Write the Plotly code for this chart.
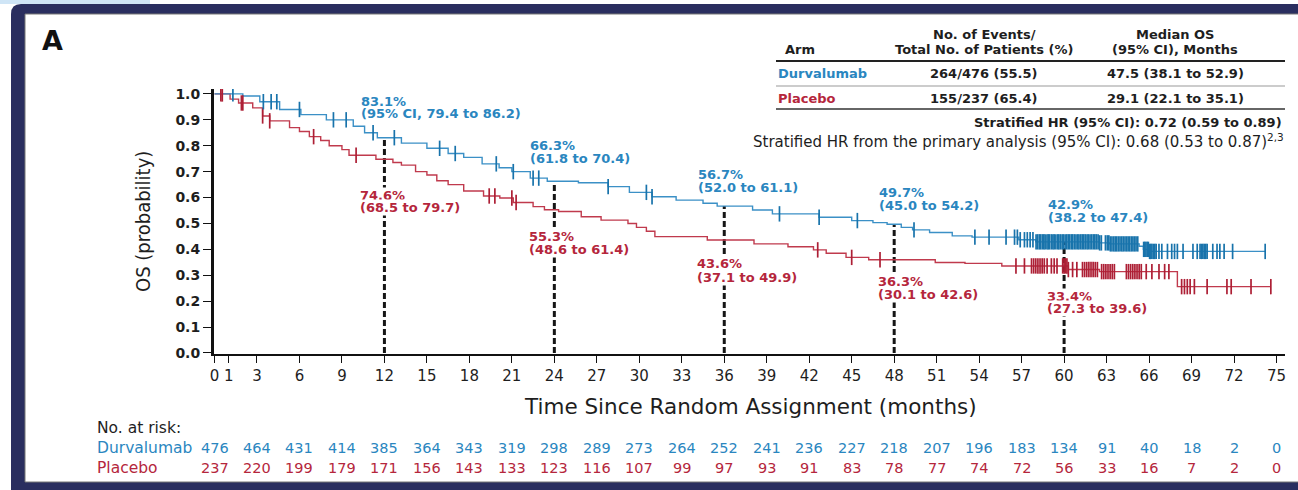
import numpy as np
import plotly.graph_objects as go

# ---------------- data ----------------
durv_t = [0, 2.0, 3.2, 4.6, 6.1, 7.9, 9.8, 10.6, 11.5, 13.2, 15.0, 16.5, 17.6, 18.9, 20.1, 21.0,
          22.3, 23.5, 25.7, 27.8, 29.3, 30.9, 32.6, 34.5, 35.5, 38.0, 39.4, 42.7, 45.0, 46.5,
          47.5, 48.5, 49.3, 50.5, 52.1, 53.5, 56.8, 58.0, 62.5, 63.2, 65.3, 65.6, 66.0, 74.2]
durv_s = [1.0, 0.992, 0.97, 0.94, 0.92, 0.90, 0.875, 0.85, 0.831, 0.81, 0.79, 0.77, 0.755, 0.73, 0.715, 0.70,
          0.675, 0.663, 0.657, 0.642, 0.62, 0.603, 0.59, 0.578, 0.567, 0.552, 0.537, 0.524, 0.511, 0.503,
          0.497, 0.485, 0.475, 0.465, 0.452, 0.447, 0.437, 0.429, 0.425, 0.421, 0.412, 0.40, 0.392, 0.392]

plac_t = [0, 1.1, 1.7, 2.7, 3.4, 3.9, 5.3, 6.0, 6.7, 7.5, 8.1, 9.0, 9.5, 11.4, 12.6, 13.2, 14.2,
          15.0, 15.7, 16.5, 17.6, 19.0, 20.15, 21.1, 22.5, 23.3, 24.3, 25.9, 27.3, 29.2, 29.8, 30.5,
          31.1, 34.8, 38.1, 40.5, 42.3, 43.2, 44.6, 46.2, 50.9, 53.0, 55.6, 60.3, 62.5, 68.0, 74.6]
plac_s = [1.0, 0.98, 0.965, 0.946, 0.915, 0.896, 0.87, 0.855, 0.835, 0.82, 0.80, 0.785, 0.763, 0.748, 0.735,
          0.725, 0.70, 0.687, 0.665, 0.65, 0.625, 0.606, 0.598, 0.581, 0.565, 0.553, 0.546, 0.526, 0.513,
          0.50, 0.485, 0.47, 0.449, 0.436, 0.421, 0.41, 0.398, 0.385, 0.369, 0.36, 0.349, 0.346, 0.336,
          0.322, 0.314, 0.256, 0.256]

durv_cens = [1.3, 3.45, 4.0, 4.4, 6.0, 8.4, 9.3, 11.2, 12.7, 15.9, 17.0, 19.9, 21.1, 22.5, 22.9, 27.8,
             30.5, 30.9, 39.9, 42.7, 45.4, 49.4, 53.7, 54.7, 55.9, 56.5, 56.7, 56.9, 57.2, 57.4, 57.6,
             57.8, 58.02, 58.13, 58.25, 58.34, 58.46, 58.57, 58.66, 58.79, 58.88, 58.97, 59.1, 59.21,
             59.3, 59.42, 59.55, 59.63, 59.74, 59.86, 59.95, 60.07, 60.18, 60.29, 60.4, 60.52, 60.61,
             60.73, 60.84, 60.96, 61.05, 61.17, 61.28, 61.39, 61.5, 61.62, 61.71, 61.83, 61.94, 62.06,
             62.17, 62.28, 62.4, 62.51, 62.63, 62.92, 63.05, 63.16, 63.27, 63.38, 63.5, 63.61, 63.72,
             63.84, 63.95, 64.07, 64.18, 64.3, 64.41, 64.52, 64.63, 64.75, 64.86, 64.97, 65.08, 65.2,
             65.62, 65.7, 65.78, 65.87, 65.95, 66.04, 66.12, 66.2, 66.3, 66.4, 66.5, 66.7, 66.9, 67.3,
             67.6, 67.8, 68.0, 68.4, 69.1, 69.4, 69.6, 69.7, 69.8, 69.9, 70.0, 70.1, 70.5, 70.8, 71.0,
             71.3, 71.9, 74.2]
plac_cens = [0.45, 0.55, 1.9, 2.0, 3.4, 3.9, 7.0, 10.0, 19.4, 19.8, 21.0, 21.3, 42.6, 45.0, 47.0,
             56.6, 57.2, 57.7, 57.85, 58.0, 58.15, 58.3, 58.45, 58.6, 58.8, 59.1, 59.3, 59.5, 59.9,
             60.0, 60.1, 60.2, 60.3, 60.6, 60.9, 61.3, 61.45, 61.6, 61.75, 61.9, 62.05, 62.2, 62.35,
             62.65, 62.8, 62.95, 63.1, 63.25, 63.4, 63.55, 64.4, 64.55, 64.7, 64.85, 65.0, 65.15, 65.3,
             65.45, 65.8, 66.2, 66.7, 67.1, 67.4, 68.3, 68.5, 68.7, 68.9, 69.2, 70.1, 71.5, 71.8, 73.2,
             74.6]

landmarks = [12, 24, 36, 48, 60]
durv_land = [0.831, 0.663, 0.567, 0.497, 0.429]
plac_land = [0.746, 0.553, 0.436, 0.363, 0.334]
durv_pct = ["83.1%", "66.3%", "56.7%", "49.7%", "42.9%"]
durv_ci = ["(95% CI, 79.4 to 86.2)", "(61.8 to 70.4)", "(52.0 to 61.1)", "(45.0 to 54.2)", "(38.2 to 47.4)"]
plac_pct = ["74.6%", "55.3%", "43.6%", "36.3%", "33.4%"]
plac_ci = ["(68.5 to 79.7)", "(48.6 to 61.4)", "(37.1 to 49.9)", "(30.1 to 42.6)", "(27.3 to 39.6)"]

risk_months = [0, 3, 6, 9, 12, 15, 18, 21, 24, 27, 30, 33, 36, 39, 42, 45, 48, 51, 54, 57, 60, 63, 66, 69, 72, 75]
durv_risk = [476, 464, 431, 414, 385, 364, 343, 319, 298, 289, 273, 264, 252, 241, 236, 227, 218, 207,
             196, 183, 134, 91, 40, 18, 2, 0]
plac_risk = [237, 220, 199, 179, 171, 156, 143, 133, 123, 116, 107, 99, 97, 93, 91, 83, 78, 77, 74, 72,
             56, 33, 16, 7, 2, 0]

xtick_vals = [0, 1, 3, 6, 9, 12, 15, 18, 21, 24, 27, 30, 33, 36, 39, 42, 45, 48, 51, 54, 57, 60, 63, 66, 69, 72, 75]
ytick_vals = [0.0, 0.1, 0.2, 0.3, 0.4, 0.5, 0.6, 0.7, 0.8, 0.9, 1.0]
ytick_text = ["0.0", "0.1", "0.2", "0.3", "0.4", "0.5", "0.6", "0.7", "0.8", "0.9", "1.0"]

table_header = [["Arm"], ["No. of Events/", "Total No. of Patients (%)"], ["Median OS", "(95% CI), Months"]]
table_rows = [["Durvalumab", "264/476 (55.5)", "47.5 (38.1 to 52.9)"],
              ["Placebo", "155/237 (65.4)", "29.1 (22.1 to 35.1)"]]
hr_lines = ["Stratified HR (95% CI): 0.72 (0.59 to 0.89)",
            "Stratified HR from the primary analysis (95% CI): 0.68 (0.53 to 0.87)<sup>2,3</sup>"]

# ---------------- style ----------------
W, H = 1298, 490
ML, MR, MT, MB = 214, 13, 89, 136
PW, PH = W - ML - MR, H - MT - MB
FONT = "DejaVu Sans"
BLUE = "#2a86bf"
RED = "#b5263c"
BLUE_LINE = "#3b90c6"
RED_LINE = "#c03a4d"
NAVY = "#2a2e5f"
INK = "#1e1e1e"


def px(x):
    return (x - ML) / PW


def py(y):
    return (MT + PH - y) / PH


def step_value(times, surv, t):
    i = np.searchsorted(np.array(times), t, side="right") - 1
    return np.array(surv)[i]


fig = go.Figure()

# landmark dashed lines
for m, v in zip(landmarks, durv_land):
    fig.add_trace(go.Scatter(x=[m, m], y=[0, v], mode="lines",
                             line=dict(color="#161616", width=3, dash="6px,3px"),
                             hoverinfo="skip", showlegend=False))

# KM curves
for t, s, col in [(plac_t, plac_s, RED_LINE), (durv_t, durv_s, BLUE_LINE)]:
    fig.add_trace(go.Scatter(x=t, y=s, mode="lines", line=dict(color=col, width=1.4, shape="hv"),
                             showlegend=False))

# censor marks
for t, s, c, col in [(plac_t, plac_s, plac_cens, "#ad1f35"), (durv_t, durv_s, durv_cens, "#1873ab")]:
    fig.add_trace(go.Scatter(x=c, y=step_value(t, s, c), mode="markers",
                             marker=dict(symbol="line-ns-open", size=11, color=col,
                                         line=dict(color=col, width=1.7)),
                             showlegend=False))

ann = []
# landmark labels
b_shift_pct = [36, 36, 32, 32, 37]
b_shift_ci = [24, 23, 19, 19, 24]
r_shift_pct = [-36, -27, -23, -23, -30]
r_shift_ci = [-48, -40, -37, -36, -42]
x_shift = [-25, -26, -28, -17, -18]
lab_font_b = dict(family=FONT, size=13, color=BLUE, weight="bold")
lab_font_r = dict(family=FONT, size=13, color=RED, weight="bold")
for i, m in enumerate(landmarks):
    for txt, ys in [(durv_pct[i], b_shift_pct[i]), (durv_ci[i], b_shift_ci[i])]:
        ann.append(dict(x=m, y=durv_land[i], xref="x", yref="y", text=txt, showarrow=False,
                        xanchor="left", yanchor="middle", xshift=x_shift[i], yshift=ys, font=lab_font_b))
    for txt, ys in [(plac_pct[i], r_shift_pct[i]), (plac_ci[i], r_shift_ci[i])]:
        ann.append(dict(x=m, y=plac_land[i], xref="x", yref="y", text=txt, showarrow=False,
                        xanchor="left", yanchor="middle", xshift=x_shift[i], yshift=ys, font=lab_font_r,
                        bgcolor="white", borderpad=0))

# panel letter
ann.append(dict(x=px(40), y=py(40), xref="paper", yref="paper", text="<b>A</b>", showarrow=False,
                xanchor="left", yanchor="middle", font=dict(family=FONT, size=27, color="#111")))

# axis titles
ann.append(dict(x=px(750), y=py(406), xref="paper", yref="paper", text="Time Since Random Assignment (months)",
                showarrow=False, xanchor="center", yanchor="middle", font=dict(family=FONT, size=21.5, color=INK)))
ann.append(dict(x=px(143), y=py(222), xref="paper", yref="paper", text="OS (probability)", textangle=-90,
                showarrow=False, xanchor="center", yanchor="middle",
                font=dict(family="Liberation Sans Narrow, DejaVu Sans Condensed, DejaVu Sans", size=20, color=INK)))

# table
hb = dict(family=FONT, size=13, color=INK, weight="bold")
ann.append(dict(x=px(783), y=py(49), xref="paper", yref="paper", text=table_header[0][0], showarrow=False,
                xanchor="left", yanchor="middle", font=hb))
for col_x, hdr in [(984, table_header[1]), (1175, table_header[2])]:
    for k, line in enumerate(hdr):
        ann.append(dict(x=px(col_x), y=py(34 + 15 * k), xref="paper", yref="paper", text=line,
                        showarrow=False, xanchor="center", yanchor="middle", font=hb))
row_y = [73, 98]
for r, row in enumerate(table_rows):
    colr = BLUE if r == 0 else RED
    ann.append(dict(x=px(776), y=py(row_y[r]), xref="paper", yref="paper", text=row[0], showarrow=False,
                    xanchor="left", yanchor="middle", font=dict(family=FONT, size=13, color=colr, weight="bold")))
    for col_x, txt in [(984, row[1]), (1175, row[2])]:
        ann.append(dict(x=px(col_x), y=py(row_y[r]), xref="paper", yref="paper", text=txt, showarrow=False,
                        xanchor="center", yanchor="middle", font=hb))
ann.append(dict(x=px(1284), y=py(122), xref="paper", yref="paper", text=hr_lines[0], showarrow=False,
                xanchor="right", yanchor="middle", font=hb))
ann.append(dict(x=px(1286), y=py(141), xref="paper", yref="paper", text=hr_lines[1], showarrow=False,
                xanchor="right", yanchor="middle", font=dict(family=FONT, size=15, color="#1e1e1e")))

# risk table
rf = dict(family=FONT, size=14.5)
lf = dict(family=FONT, size=15.5)
ann.append(dict(x=px(95), y=py(428), xref="paper", yref="paper", text="No. at risk:", showarrow=False,
                xanchor="left", yanchor="middle", font=dict(lf, color=INK)))
for lbl, vals, colr, yy in [("Durvalumab", durv_risk, BLUE, 448), ("Placebo", plac_risk, RED, 468)]:
    ann.append(dict(x=px(95), y=py(yy), xref="paper", yref="paper", text=lbl, showarrow=False,
                    xanchor="left", yanchor="middle", font=dict(lf, color=colr)))
    for m, v in zip(risk_months, vals):
        ann.append(dict(x=m, y=py(yy), xref="x", yref="paper", text=str(v), showarrow=False,
                        xanchor="center", yanchor="middle", font=dict(rf, color=colr)))

# frame shapes
shapes = [
    dict(type="rect", xref="paper", yref="paper", x0=px(0), x1=px(150), y0=py(4), y1=py(0),
         fillcolor="#cfe5f6", line=dict(width=0), layer="below"),
    dict(type="path", xref="paper", yref="paper",
         path=f"M {px(11)},{py(490)} L {px(11)},{py(14)} Q {px(11)},{py(4)} {px(21)},{py(4)} "
              f"L {px(1300)},{py(4)} L {px(1300)},{py(490)} Z",
         fillcolor=NAVY, line=dict(width=0), layer="below"),
    dict(type="rect", xref="paper", yref="paper", x0=px(25), x1=px(1300), y0=py(482), y1=py(14),
         fillcolor="white", line=dict(color="#777", width=1), layer="below"),
    # table rules
    dict(type="line", xref="paper", yref="paper", x0=px(776), x1=px(1285), y0=py(61), y1=py(61),
         line=dict(color="#222", width=2.2)),
    dict(type="line", xref="paper", yref="paper", x0=px(776), x1=px(1285), y0=py(86), y1=py(86),
         line=dict(color="#999", width=1)),
    dict(type="line", xref="paper", yref="paper", x0=px(776), x1=px(1285), y0=py(109), y1=py(109),
         line=dict(color="#333", width=1.6)),
]

fig.update_layout(
    width=W, height=H, margin=dict(l=ML, r=MR, t=MT, b=MB),
    paper_bgcolor="white", plot_bgcolor="rgba(0,0,0,0)",
    showlegend=False, annotations=ann, shapes=shapes,
    xaxis=dict(range=[-0.035, 75.6], tickvals=xtick_vals, ticktext=[str(v) for v in xtick_vals],
               showgrid=False, zeroline=False, showline=True, linecolor="#111", linewidth=2,
               ticks="outside", ticklen=7, tickwidth=1, tickcolor="#111",
               tickfont=dict(family=FONT, size=15, color=INK)),
    yaxis=dict(range=[-0.004, 1.019], tickvals=ytick_vals, ticktext=ytick_text,
               showgrid=False, zeroline=False, showline=True, linecolor="#111", linewidth=3,
               ticks="outside", ticklen=8, tickwidth=1, tickcolor="#111",
               tickfont=dict(family=FONT, size=14, color=INK, weight="bold")),
)

fig.write_html("out.html")
